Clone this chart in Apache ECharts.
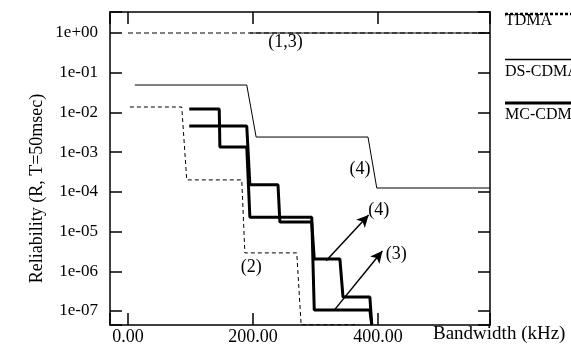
<!DOCTYPE html>
<html>
<head>
<meta charset="utf-8">
<script src="https://cdn.jsdelivr.net/npm/echarts@6/dist/echarts.min.js"></script>
<style>
html,body{margin:0;padding:0;background:#fff;}
#c{width:571px;height:347px;}
</style>
</head>
<body>
<div id="c"></div>
<script>
// ---- data (bandwidth in kHz, reliability values) ----
const tdma13X = [0, 579];
const tdma13Y = [1, 1];
const tdma2X = [3, 86, 94, 182, 187, 270, 277, 370];
const tdma2Y = [1.37e-2, 1.37e-2, 2.0e-4, 2.0e-4, 2.9e-6, 2.9e-6, 4.5e-8, 4.5e-8];
const ds13X = [195, 579];
const ds13Y = [1, 1];
const ds4X = [11, 190, 205, 384, 398, 579];
const ds4Y = [4.9e-2, 4.9e-2, 2.4e-3, 2.4e-3, 1.25e-4, 1.25e-4];
const mc3X = [98, 146, 147, 190, 195, 294, 298, 387, 390];
const mc3Y = [1.22e-2, 1.22e-2, 1.35e-3, 1.35e-3, 2.3e-5, 2.3e-5, 1.06e-7, 1.06e-7, 4.5e-8];
const mc4X = [98, 190, 195, 240, 243, 294, 298, 339, 344, 387, 390];
const mc4Y = [4.55e-3, 4.55e-3, 1.5e-4, 1.5e-4, 1.74e-5, 1.74e-5, 2.04e-6, 2.04e-6, 2.25e-7, 2.25e-7, 4.5e-8];

// annotations
const annoText = ['(1,3)', '(4)', '(2)', '(4)', '(3)'];
const annoX = [252, 371, 197, 401, 429];
const annoY = [0.577, 3.66e-4, 1.24e-6, 3.39e-5, 2.64e-6];
const arrowFromX = [317, 331];
const arrowFromY = [1.85e-6, 1.10e-7];
const arrowToX = [385, 407];
const arrowToY = [2.61e-5, 3.24e-6];

// axis ranges
const X_MIN = -28.8, X_MAX = 579.2;
const Y_MIN = 4.44e-8, Y_MAX = 3.38;
const legendNames = ['TDMA', 'DS-CDMA', 'MC-CDMA'];
const xLabelTitle = 'Bandwidth (kHz)';
const yLabelTitle = 'Reliability (R, T=50msec)';

const FONT = '"Liberation Serif", "Times New Roman", serif';
const L = Math.log10;
function toLine(xs, ys){ return xs.map((x,i)=>[x, L(ys[i])]); }

function yFmt(v){
  const r = Math.round(v);
  if (Math.abs(v - r) > 1e-6) return '';
  return '1e' + (r >= 0 ? '+' : '-') + String(Math.abs(r)).padStart(2,'0');
}
function xFmt(v){
  const r = Math.round(v/200)*200;
  if (Math.abs(v - r) > 1e-6) return '';
  return r.toFixed(2);
}

const axisLineStyle = {color:'#000', width:1.5};
function xAx(pos, showLabel){
  return {type:'value', position:pos, min:X_MIN, max:X_MAX, minInterval:200, maxInterval:200, splitNumber:3,
    axisLine:{show:true, onZero:false, lineStyle:axisLineStyle},
    axisTick:{show:true, inside:true, length:12, lineStyle:axisLineStyle},
    axisLabel:{show:showLabel, formatter:xFmt, fontFamily:FONT, fontSize:18, color:'#000', margin:3},
    splitLine:{show:false}};
}
function yAx(pos, showLabel){
  return {type:'value', position:pos, min:L(Y_MIN), max:L(Y_MAX), minInterval:1, maxInterval:1, splitNumber:8,
    axisLine:{show:true, onZero:false, lineStyle:axisLineStyle},
    axisTick:{show:true, inside:true, length:12, lineStyle:axisLineStyle},
    axisLabel:{show:showLabel, formatter:yFmt, fontFamily:FONT, fontSize:17, color:'#000', margin:12},
    splitLine:{show:false}};
}

function lineSeries(name, xs, ys, width, dash){
  return {name:name, type:'line', data:toLine(xs, ys), symbol:'none', clip:true, animation:false,
    lineStyle:{color:'#000', width:width, type:dash || 'solid'}, z:3};
}

const chart = echarts.init(document.getElementById('c'), null, {renderer:'canvas'});
chart.setOption({
  animation:false,
  backgroundColor:'#fff',
  grid:{left:110, right:81, top:12, bottom:22, containLabel:false},
  xAxis:[xAx('bottom', true), xAx('top', false)],
  yAxis:[yAx('left', true), yAx('right', false)],
  series:[
    lineSeries('TDMA (1,3)', tdma13X, tdma13Y, 1, [5,3]),
    lineSeries('TDMA (2)', tdma2X, tdma2Y, 1, [4,3]),
    lineSeries('DS-CDMA (1,3)', ds13X, ds13Y, 1),
    lineSeries('DS-CDMA (4)', ds4X, ds4Y, 1),
    lineSeries('MC-CDMA (3)', mc3X, mc3Y, 3),
    lineSeries('MC-CDMA (4)', mc4X, mc4Y, 3),
    {type:'scatter', name:'annotations', symbolSize:0, animation:false, silent:true,
      itemStyle:{color:'#000', opacity:1},
      data: annoText.map((t,i)=>({value:[annoX[i], L(annoY[i])], name:t})),
      label:{show:true, position:'inside', formatter:p=>p.name, fontFamily:FONT, fontSize:18,
        color:'#000', textBorderWidth:0, textBorderColor:'transparent', opacity:1},
      markLine:{silent:true, animation:false, symbol:['none','arrow'], symbolSize:[9,12],
        lineStyle:{color:'#000', width:1.5, type:'solid'}, label:{show:false},
        data: arrowFromX.map((x,i)=>[{coord:[x, L(arrowFromY[i])]}, {coord:[arrowToX[i], L(arrowToY[i])]}])}
    }
  ],
  graphic:[
    {type:'text', x:37.5, y:188.5, rotation:Math.PI/2,
      style:{text:yLabelTitle, font:'18px ' + FONT, fill:'#000', align:'center', verticalAlign:'middle'}},
    {type:'text', x:433, y:334,
      style:{text:xLabelTitle, font:'19px ' + FONT, fill:'#000', align:'left', verticalAlign:'middle'}},
    {type:'line', shape:{x1:505, y1:14, x2:571, y2:14}, style:{stroke:'#000', lineWidth:2.5, lineDash:[3,2]}},
    {type:'text', x:505, y:21, style:{text:legendNames[0], font:'16px ' + FONT, fill:'#000', align:'left', verticalAlign:'middle'}},
    {type:'line', shape:{x1:505, y1:59.5, x2:571, y2:59.5}, style:{stroke:'#000', lineWidth:1.5}},
    {type:'text', x:505, y:72, style:{text:legendNames[1], font:'16px ' + FONT, fill:'#000', align:'left', verticalAlign:'middle'}},
    {type:'line', shape:{x1:505, y1:103, x2:571, y2:103}, style:{stroke:'#000', lineWidth:3}},
    {type:'text', x:505, y:115, style:{text:legendNames[2], font:'16px ' + FONT, fill:'#000', align:'left', verticalAlign:'middle'}}
  ]
});
</script>
</body>
</html>
